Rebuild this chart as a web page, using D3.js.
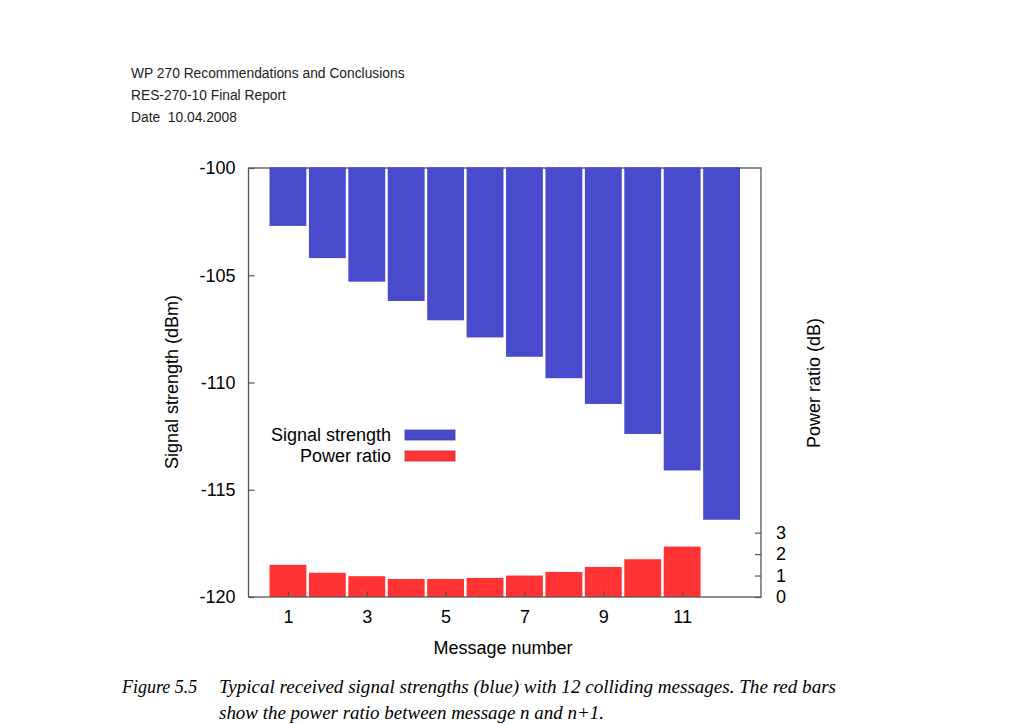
<!DOCTYPE html>
<html>
<head>
<meta charset="utf-8">
<script src="https://cdn.jsdelivr.net/npm/d3@7"></script>
<style>
  html, body { margin: 0; padding: 0; background: #fff; }
  svg { display: block; }
</style>
</head>
<body>
<svg id="chart" width="1024" height="724"></svg>
<script>
// ---- data ----
const messages = [1, 2, 3, 4, 5, 6, 7, 8, 9, 10, 11, 12];
const signalStrength = [-102.7, -104.2, -105.3, -106.2, -107.1, -107.9, -108.8, -109.8, -111.0, -112.4, -114.1, -116.4];
const ratioMessages = [1, 2, 3, 4, 5, 6, 7, 8, 9, 10, 11];
const powerRatio = [1.5, 1.13, 0.97, 0.84, 0.84, 0.89, 1.0, 1.17, 1.40, 1.76, 2.35];
const xTicks = [1, 3, 5, 7, 9, 11];
const yLeftTicks = [-100, -105, -110, -115, -120];
const yRightTicks = [0, 1, 2, 3];
const headerLines = ["WP 270 Recommendations and Conclusions", "RES-270-10 Final Report", "Date  10.04.2008"];

const svg = d3.select("#chart");
const L = 248.5, R = 761, T = 168, B = 597;
const x = d3.scaleLinear().domain([0, 13]).range([L, R]);
const yL = d3.scaleLinear().domain([-120, -100]).range([B, T]);
const yR = d3.scaleLinear().domain([0, 20]).range([B, T]);
const barW = (x(1) - x(0)) * 0.935;
const blue = "#4a4acd", red = "#ff3333";
const font = "Liberation Sans, Arial, sans-serif";
const fmt = d => String(d);

// header
svg.append("g").selectAll("text").data(headerLines).join("text")
  .attr("x", 131).attr("y", (d, i) => 78 + i * 22)
  .attr("font-family", font).attr("font-size", 13.8).attr("fill", "#222")
  .attr("xml:space", "preserve")
  .text(d => d);

// blue bars (hang from -100)
svg.append("g").selectAll("rect").data(messages).join("rect")
  .attr("x", (d) => x(d) - barW / 2)
  .attr("width", barW)
  .attr("y", yL(-100))
  .attr("height", (d, i) => yL(signalStrength[i]) - yL(-100))
  .attr("fill", blue);

// red bars
svg.append("g").selectAll("rect").data(ratioMessages).join("rect")
  .attr("x", (d) => x(d) - barW / 2)
  .attr("width", barW)
  .attr("y", (d, i) => yR(powerRatio[i]))
  .attr("height", (d, i) => yR(0) - yR(powerRatio[i]))
  .attr("fill", red);

// frame
svg.append("rect").attr("x", L).attr("y", T).attr("width", R - L).attr("height", B - T)
  .attr("fill", "none").attr("stroke", "#555").attr("stroke-width", 1.3);
// redraw blue bars over the top frame line
svg.append("g").selectAll("rect").data(messages).join("rect")
  .attr("x", (d) => x(d) - barW / 2)
  .attr("width", barW)
  .attr("y", yL(-100) - 0.7)
  .attr("height", 2)
  .attr("fill", blue);

function styleAxis(g) {
  g.select(".domain").remove();
  g.selectAll(".tick line").attr("stroke", "#555").attr("stroke-width", 1.2);
  g.selectAll(".tick text").attr("font-family", font).attr("font-size", 18).attr("fill", "#000");
}

// left axis
svg.append("g").attr("transform", `translate(${L},0)`)
  .call(d3.axisLeft(yL).tickValues(yLeftTicks).tickFormat(fmt).tickSizeInner(-6).tickSizeOuter(0).tickPadding(13))
  .call(styleAxis);

// right axis
svg.append("g").attr("transform", `translate(${R},0)`)
  .call(d3.axisRight(yR).tickValues(yRightTicks).tickFormat(fmt).tickSizeInner(-6).tickSizeOuter(0).tickPadding(15))
  .call(styleAxis);

// bottom axis
svg.append("g").attr("transform", `translate(0,${B})`)
  .call(d3.axisBottom(x).tickValues(xTicks).tickFormat(fmt).tickSizeInner(-6).tickSizeOuter(0).tickPadding(13))
  .call(styleAxis);

// axis titles
svg.append("text").attr("x", 503).attr("y", 654).attr("text-anchor", "middle")
  .attr("font-family", font).attr("font-size", 18).text("Message number");
svg.append("text").attr("transform", "translate(178,382) rotate(-90)").attr("text-anchor", "middle")
  .attr("font-family", font).attr("font-size", 18).text("Signal strength (dBm)");
svg.append("text").attr("transform", "translate(820,383) rotate(-90)").attr("text-anchor", "middle")
  .attr("font-family", font).attr("font-size", 18).text("Power ratio (dB)");

// legend
const legend = [{ label: "Signal strength", color: blue }, { label: "Power ratio", color: red }];
const lg = svg.append("g");
lg.selectAll("text").data(legend).join("text")
  .attr("x", 391).attr("y", (d, i) => 441 + i * 21).attr("text-anchor", "end")
  .attr("font-family", font).attr("font-size", 18).text(d => d.label);
lg.selectAll("rect").data(legend).join("rect")
  .attr("x", 405).attr("y", (d, i) => 430 + i * 21).attr("width", 50).attr("height", 10)
  .attr("fill", d => d.color).attr("stroke", d => d3.color(d.color).darker(0.6)).attr("stroke-width", 0.8);

// caption
const cf = "Liberation Serif, Times New Roman, serif";
svg.append("text").attr("x", 122).attr("y", 693).attr("font-family", cf).attr("font-style", "italic")
  .attr("font-size", 18).text("Figure 5.5");
svg.append("text").attr("x", 219).attr("y", 693).attr("font-family", cf).attr("font-style", "italic")
  .attr("font-size", 18).attr("textLength", 617).attr("lengthAdjust", "spacingAndGlyphs")
  .text("Typical received signal strengths (blue) with 12 colliding messages. The red bars");
svg.append("text").attr("x", 219).attr("y", 719).attr("font-family", cf).attr("font-style", "italic")
  .attr("font-size", 18).attr("textLength", 385).attr("lengthAdjust", "spacingAndGlyphs")
  .text("show the power ratio between message n and n+1.");
</script>
</body>
</html>
